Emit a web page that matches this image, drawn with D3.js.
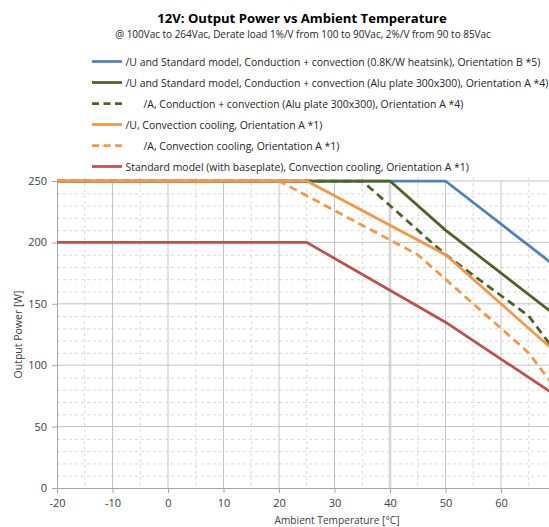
<!DOCTYPE html>
<html>
<head>
<meta charset="utf-8">
<script src="https://cdn.jsdelivr.net/npm/d3@7"></script>
<style>
  html, body { margin: 0; padding: 0; background: #fff; }
  svg { display: block; font-family: "Open Sans", sans-serif; }
</style>
</head>
<body>
<svg id="chart" width="549" height="527"></svg>
<script>
// ---------- DATA ----------
const title = "12V: Output Power vs Ambient Temperature";
const subtitle = "@ 100Vac to 264Vac, Derate load 1%/V from 100 to 90Vac, 2%/V from 90 to 85Vac";
const xTitle = "Ambient Temperature [°C]";
const yTitle = "Output Power [W]";

const seriesNames = [
  "/U and Standard model, Conduction + convection (0.8K/W heatsink), Orientation B *5)",
  "/U and Standard model, Conduction + convection (Alu plate 300x300), Orientation A *4)",
  "/A, Conduction + convection (Alu plate 300x300), Orientation A *4)",
  "/U, Convection cooling, Orientation A *1)",
  "/A, Convection cooling, Orientation A *1)",
  "Standard model (with baseplate), Convection cooling, Orientation A *1)"
];
const seriesColors = ["#4f81bd", "#4f6228", "#4f6228", "#f79646", "#f79646", "#c0504d"];
const seriesDashed = [false, false, true, false, true, false];

const tempHeatsink   = [-20, 50, 70];
const powerHeatsink  = [250, 250, 180];
const tempAluU       = [-20, 40, 50, 70];
const powerAluU      = [250, 250, 210, 140];
const tempAluA       = [-20, 35, 50, 65, 70];
const powerAluA      = [250, 250, 190, 140, 110];
const tempConvU      = [-20, 25, 50, 70];
const powerConvU     = [250, 250, 190, 110];
const tempConvA      = [-20, 20, 45, 50, 65, 70];
const powerConvA     = [250, 250, 190, 170, 110, 80];
const tempStd        = [-20, 25, 50, 70];
const powerStd       = [200, 200, 135, 75];

const seriesTemps  = [tempHeatsink, tempAluU, tempAluA, tempConvU, tempConvA, tempStd];
const seriesPowers = [powerHeatsink, powerAluU, powerAluA, powerConvU, powerConvA, powerStd];

const xTicks = [-20, -10, 0, 10, 20, 30, 40, 50, 60, 70];
const xMinorTicks = [-15, -5, 5, 15, 25, 35, 45, 55, 65];
const yTicks = [0, 50, 100, 150, 200, 250];
const yMinorTicks = [10, 20, 30, 40, 60, 70, 80, 90, 110, 120, 130, 140, 160, 170, 180, 190, 210, 220, 230, 240];

// ---------- LAYOUT ----------
const svg = d3.select("#chart");
const x = d3.scaleLinear().domain([-20, 70]).range([57, 556.5]);
const y = d3.scaleLinear().domain([0, 250]).range([488, 181]);

function fit(sel, w) {
  const cur = sel.node().getComputedTextLength();
  const fs = parseFloat(sel.attr("font-size"));
  sel.attr("font-size", fs * w / cur);
  return sel;
}

// ---------- TITLES ----------
fit(svg.append("text").attr("x", 302).attr("y", 23).attr("text-anchor", "middle")
  .attr("font-size", 16).attr("font-weight", "bold").attr("fill", "#000").text(title), 290);
fit(svg.append("text").attr("x", 303).attr("y", 38).attr("text-anchor", "middle")
  .attr("font-size", 11).attr("fill", "#262626").text(subtitle), 376);

// ---------- GRID ----------
const grid = svg.append("g");
grid.selectAll(".xminor").data(xMinorTicks).join("line")
  .attr("x1", d => x(d)).attr("x2", d => x(d)).attr("y1", 177).attr("y2", y(0))
  .attr("stroke", "#d9d9d9").attr("stroke-dasharray", "3,3").attr("stroke-width", 1);
grid.selectAll(".yminor").data(yMinorTicks).join("line")
  .attr("x1", x(-20)).attr("x2", 549).attr("y1", d => y(d) + 0.5).attr("y2", d => y(d) + 0.5)
  .attr("stroke", "#d9d9d9").attr("stroke-dasharray", "3,3").attr("stroke-width", 1);
// faint band at 40
grid.append("line").attr("x1", x(40)).attr("x2", x(40)).attr("y1", y(250)).attr("y2", y(0))
  .attr("stroke", "#e6e6e6").attr("stroke-width", 3);
grid.selectAll(".xmajor").data(xTicks.filter(d => d > -20)).join("line")
  .attr("x1", d => x(d)).attr("x2", d => x(d)).attr("y1", y(250)).attr("y2", y(0))
  .attr("stroke", "#c4c4c4").attr("stroke-width", 1);
grid.selectAll(".ymajor").data(yTicks.filter(d => d > 0)).join("line")
  .attr("x1", x(-20)).attr("x2", 549).attr("y1", d => y(d)).attr("y2", d => y(d))
  .attr("stroke", "#c4c4c4").attr("stroke-width", 1);

// ---------- AXES ----------
const xAxis = svg.append("g").attr("transform", `translate(0,${y(0)})`)
  .call(d3.axisBottom(x).tickValues(xTicks.filter(d => d < 70)).tickSize(5).tickPadding(6).tickFormat(d => String(d)));
const yAxis = svg.append("g").attr("transform", `translate(${x(-20)},0)`)
  .call(d3.axisLeft(y).tickValues(yTicks).tickSize(5).tickPadding(5).tickFormat(d => String(d)));
[xAxis, yAxis].forEach(a => {
  a.select(".domain").attr("stroke", "#a6a6a6");
  a.selectAll(".tick line").attr("stroke", "#a6a6a6");
  a.selectAll("text").attr("font-family", "Open Sans, sans-serif").attr("font-size", 11).attr("fill", "#404040");
});
xAxis.selectAll(".domain").attr("d", `M${x(-20)},0.5H549`);
yAxis.select(".domain").attr("d", `M0.5,${y(250)}V${y(0)}`);

fit(svg.append("text").attr("x", 337).attr("y", 524).attr("text-anchor", "middle")
  .attr("font-size", 11).attr("fill", "#404040").text(xTitle), 125);
fit(svg.append("text").attr("transform", `translate(22,${(y(0) + y(250)) / 2}) rotate(-90)`)
  .attr("text-anchor", "middle").attr("font-size", 11).attr("fill", "#404040").text(yTitle), 88);

// ---------- SERIES ----------
const line = d3.line().x(d => x(d[0])).y(d => y(d[1]));
seriesNames.forEach((name, i) => {
  const pts = seriesTemps[i].map((t, j) => [t, seriesPowers[i][j]]);
  svg.append("path").datum(pts).attr("d", line)
    .attr("fill", "none").attr("stroke", seriesColors[i]).attr("stroke-width", 2.75)
    .attr("stroke-linejoin", "round")
    .attr("stroke-dasharray", seriesDashed[i] ? "8,5" : null);
});

// ---------- LEGEND ----------
const legendY0 = 61.5, legendDy = 21;
const legend = svg.append("g");
let legendFont = 11;
seriesNames.forEach((name, i) => {
  const cy = legendY0 + i * legendDy;
  legend.append("line").attr("x1", 92).attr("x2", 122).attr("y1", cy).attr("y2", cy)
    .attr("stroke", seriesColors[i]).attr("stroke-width", 2.75)
    .attr("stroke-dasharray", seriesDashed[i] ? "7,4.5" : null);
  const tx = seriesDashed[i] ? 143.5 : 125.5;
  const t = legend.append("text").attr("x", tx).attr("y", cy + 4).attr("font-size", legendFont)
    .attr("fill", "#262626").text(name);
  if (i === 0) { fit(t, 415); legendFont = parseFloat(t.attr("font-size")); }
});
</script>
</body>
</html>
